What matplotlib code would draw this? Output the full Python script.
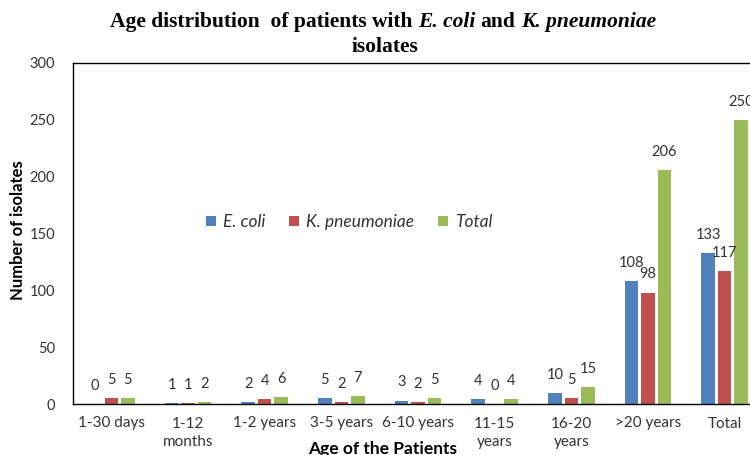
import matplotlib
matplotlib.use("Agg")
import matplotlib.pyplot as plt
import numpy as np
from matplotlib.offsetbox import TextArea, HPacker, AnnotationBbox

categories = ["1-30 days", "1-12\nmonths", "1-2 years", "3-5 years", "6-10 years",
              "11-15\nyears", "16-20\nyears", ">20 years", "Total"]
ecoli = [0, 1, 2, 5, 3, 4, 10, 108, 133]
kpneu = [5, 1, 4, 2, 2, 0, 5, 98, 117]
total = [5, 2, 6, 7, 5, 4, 15, 206, 250]
series_names = ["E. coli", "K. pneumoniae", "Total"]
colors = ["#4F81BD", "#C0504D", "#9BBB59"]
yticks = [0, 50, 100, 150, 200, 250, 300]

W, H = 750, 455
fig = plt.figure(figsize=(W / 100, H / 100), dpi=100)
ax = fig.add_axes([73 / W, 1 - 404 / H, 690 / W, 341 / H])

font = "Lato"
txtcol = "#333333"
x = np.arange(len(categories))
width = 0.175
step = 0.215
for i, (vals, name, c) in enumerate(zip([ecoli, kpneu, total], series_names, colors)):
    bars = ax.bar(x + (i - 1) * step, vals, width, color=c, label=name)
    ax.bar_label(bars, padding=8, fontsize=10.5, color=txtcol, fontfamily=font)

ax.set_xlim(-0.5, len(categories) - 0.5)
ax.set_ylim(0, 300)
ax.set_yticks(yticks)
ax.set_xticks(x)
ax.set_xticklabels(categories, fontsize=11, fontfamily=font, color=txtcol, linespacing=1.45)
ax.tick_params(axis="y", length=0, pad=13, labelsize=10.5, labelcolor=txtcol)
ax.tick_params(axis="x", length=0, pad=9)
for lab in ax.get_yticklabels():
    lab.set_fontfamily(font)
for sp in ax.spines.values():
    sp.set_color("black")
    sp.set_linewidth(1.0)

leg = ax.legend(loc="center", bbox_to_anchor=(0.40, 0.534), ncol=3, frameon=False,
                prop={"family": font, "style": "italic", "size": 12.5},
                handlelength=0.55, handleheight=0.55, handletextpad=0.4, columnspacing=1.4)
for t in leg.get_texts():
    t.set_color(txtcol)

# title with mixed italics
tp = dict(family="Liberation Serif", weight="bold", size=15.5, color="black")
tpi = dict(tp, style="italic")
parts = [TextArea("Age distribution  of patients with", textprops=tp),
         TextArea("E. coli", textprops=tpi),
         TextArea("and", textprops=tp),
         TextArea("K. pneumoniae", textprops=tpi)]
box = HPacker(children=parts, pad=0, sep=4, align="baseline")
fig.add_artist(AnnotationBbox(box, (383 / W, 1 - 22 / H), xycoords="figure fraction",
                              frameon=False, box_alignment=(0.5, 0.5), pad=0))
fig.text(385 / W, 1 - 47 / H, "isolates", ha="center", va="center", **tp)

fig.text(18 / W, 1 - 230 / H, "Number of isolates", rotation=90, ha="center", va="center",
         fontfamily=font, fontweight="bold", fontsize=12, color="black")
fig.text(383 / W, 1 - 449 / H, "Age of the Patients", ha="center", va="center",
         fontfamily=font, fontweight="bold", fontsize=12.5, color="black")

fig.savefig("out.png", dpi=100)
